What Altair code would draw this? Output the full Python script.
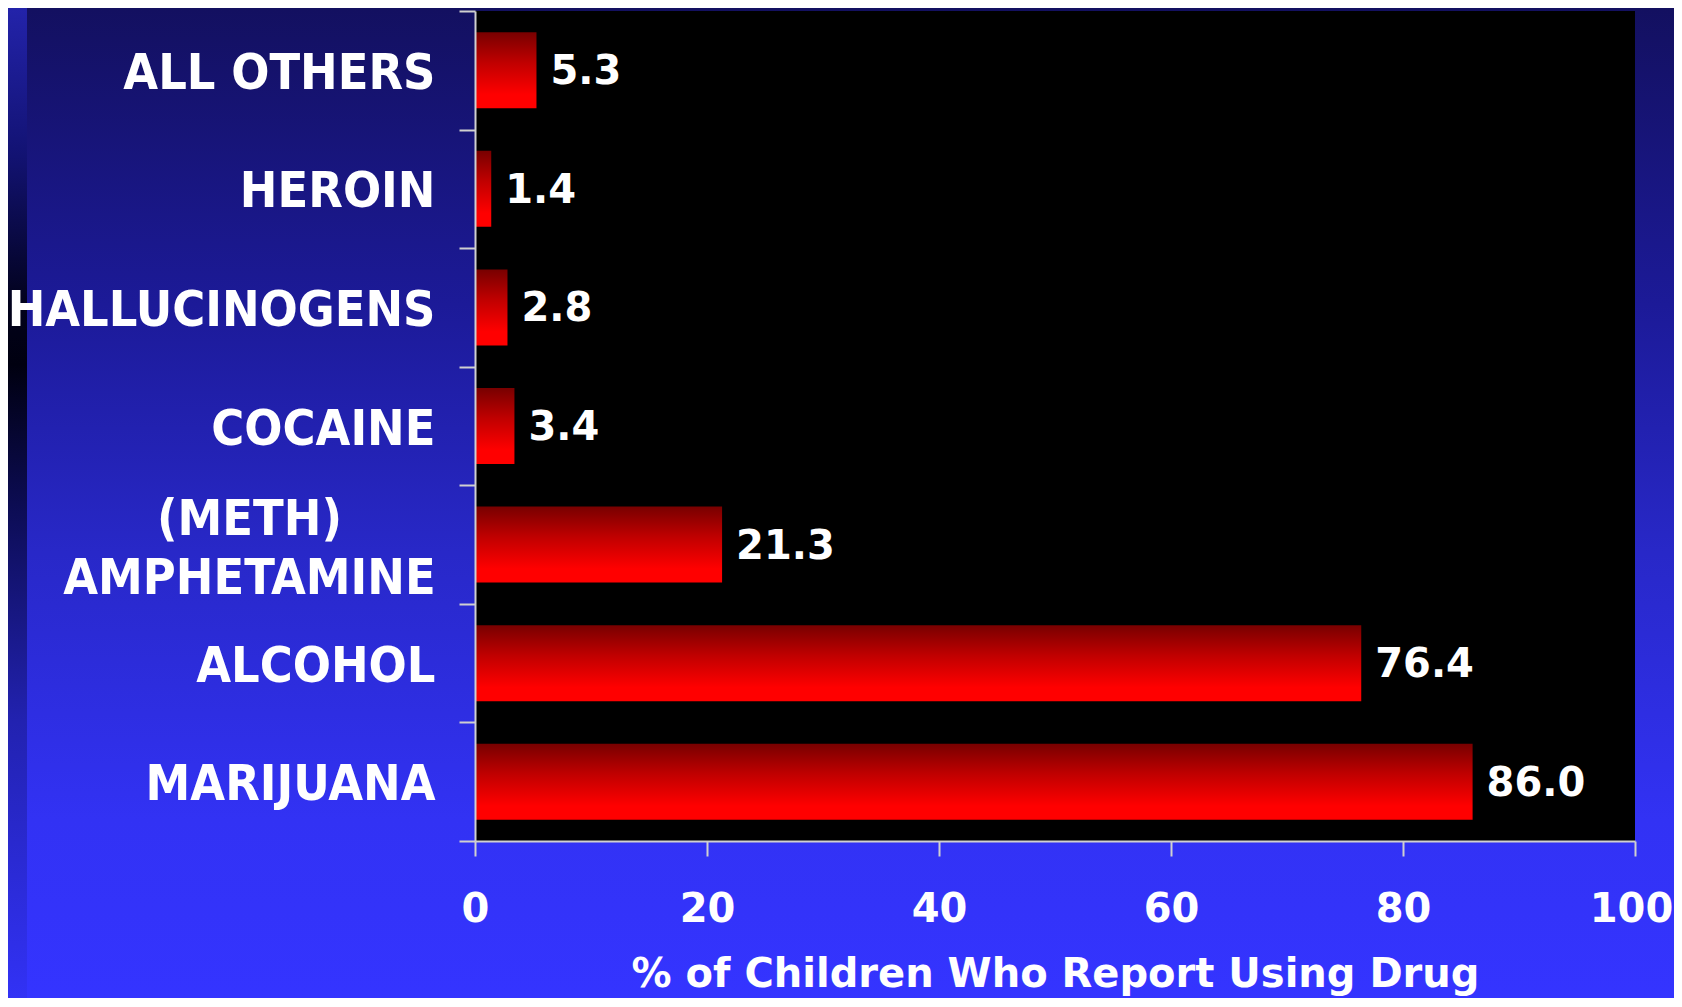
import altair as alt
import pandas as pd

categories = ["ALL OTHERS", "HEROIN", "HALLUCINOGENS", "COCAINE",
              "(METH) AMPHETAMINE", "ALCOHOL", "MARIJUANA"]
values = [5.3, 1.4, 2.8, 3.4, 21.3, 76.4, 86.0]
x_ticks = [0, 20, 40, 60, 80, 100]
x_title = "% of Children Who Report Using Drug"

df = pd.DataFrame({"category": categories, "value": values})

W, H = 1160, 830
PAD = {"left": 467, "top": 3, "right": 39, "bottom": 157}

label_expr = ("datum.value == '(METH) AMPHETAMINE' ? ['(METH)', 'AMPHETAMINE']"
              " : datum.label")
is_meth = "datum.value == '(METH) AMPHETAMINE'"

bg_grad = alt.LinearGradient(
    gradient="linear", x1=0, y1=0, x2=0, y2=1,
    stops=[alt.GradientStop(color="#131060", offset=0),
           alt.GradientStop(color="#1c1a98", offset=0.3),
           alt.GradientStop(color="#2828c8", offset=0.55),
           alt.GradientStop(color="#3232f4", offset=0.82),
           alt.GradientStop(color="#3434ff", offset=1)])
strip_grad = alt.LinearGradient(
    gradient="linear", x1=0, y1=0, x2=0, y2=1,
    stops=[alt.GradientStop(color="#2323aa", offset=0),
           alt.GradientStop(color="#121272", offset=0.15),
           alt.GradientStop(color="#02021c", offset=0.3),
           alt.GradientStop(color="#000010", offset=0.36),
           alt.GradientStop(color="#0c0c52", offset=0.5),
           alt.GradientStop(color="#2222b0", offset=0.72),
           alt.GradientStop(color="#3232f5", offset=1)])
bar_grad = alt.LinearGradient(
    gradient="linear", x1=0, y1=0, x2=0, y2=1,
    stops=[alt.GradientStop(color="#780000", offset=0),
           alt.GradientStop(color="#c00000", offset=0.4),
           alt.GradientStop(color="#ff0000", offset=0.82),
           alt.GradientStop(color="#ff0000", offset=1)])

one = alt.Data(values=[{"k": 1}])

background = alt.Chart(one).mark_rect(fill=bg_grad).encode(
    x=alt.value(-PAD["left"]), x2=alt.value(W + PAD["right"]),
    y=alt.value(-PAD["top"]), y2=alt.value(H + PAD["bottom"]))
strip = alt.Chart(one).mark_rect(fill=strip_grad).encode(
    x=alt.value(-PAD["left"]), x2=alt.value(-PAD["left"] + 19),
    y=alt.value(-PAD["top"]), y2=alt.value(H + PAD["bottom"]))
plotbg = alt.Chart(one).mark_rect(fill="black").encode(
    x=alt.value(0), x2=alt.value("width"),
    y=alt.value(0), y2=alt.value("height"))

base = alt.Chart(df)

xenc = alt.X("value:Q", scale=alt.Scale(domain=[0, 100], nice=False),
             axis=alt.Axis(values=x_ticks, title=x_title, grid=False,
                           domainColor="#d0d0d0", domainWidth=2,
                           tickColor="#d0d0d0", tickWidth=2, tickSize=15,
                           labelColor="white", labelFont="DejaVu Sans",
                           labelFontWeight="bold", labelFontSize=40,
                           labelBaseline="middle", labelPadding=53,
                           labelFlush=False,
                           labelOffset={"condition": {"test": "datum.value == 100",
                                                      "value": -4},
                                        "value": 0},
                           titleColor="white", titleFont="DejaVu Sans",
                           titleFontWeight="bold", titleFontSize=40,
                           titlePadding=25, zindex=1))
yenc = alt.Y("category:N", sort=categories,
             scale=alt.Scale(paddingInner=0, paddingOuter=0),
             axis=alt.Axis(title=None, tickBand="extent",
                           domainColor="#d0d0d0", domainWidth=2,
                           tickColor="#d0d0d0", tickWidth=2, tickSize=16,
                           labelColor="white",
                           labelFont="DejaVu Sans Condensed, Liberation Sans Narrow, sans-serif",
                           labelFontWeight="bold", labelFontSize=50,
                           labelLimit=1000,
                           labelLineHeight=59, labelExpr=label_expr,
                           labelAlign={"condition": {"test": is_meth, "value": "center"},
                                       "value": "right"},
                           labelPadding={"condition": {"test": is_meth, "value": 210},
                                         "value": 24},
                           labelOffset={"condition": {"test": is_meth, "value": -25},
                                        "value": 3},
                           zindex=1))

bars = base.mark_bar(size=76, fill=bar_grad).encode(x=xenc, y=yenc)
texts = base.mark_text(align="left", baseline="middle", dx=14, dy=2,
                       color="white", font="DejaVu Sans", fontWeight="bold",
                       fontSize=40).encode(
    x="value:Q", y=alt.Y("category:N", sort=categories),
    text=alt.Text("value:Q", format=".1f"))

chart = alt.layer(background, strip, plotbg, bars, texts).properties(
    width=W, height=H,
    autosize=alt.AutoSizeParams(type="none"),
    padding=PAD,
    background="#2626c0",
).configure_view(stroke=None)

chart.save("out.html", embed_options={"renderer": "svg", "actions": False})
